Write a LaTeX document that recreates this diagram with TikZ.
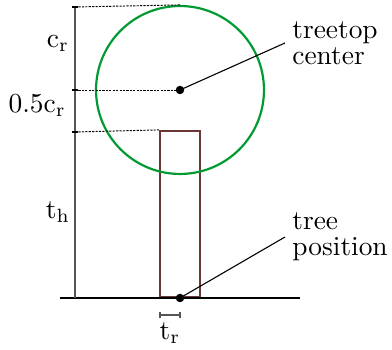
\documentclass[tikz,border=0pt]{standalone}
\usepackage{amsmath}
\definecolor{CrownGreen}{HTML}{009A33}
\definecolor{TrunkBrown}{HTML}{6B3636}
\definecolor{AxisGray}{HTML}{555555}

\begin{document}
\begin{tikzpicture}[x=0.365pt,y=-0.365pt,
  guide/.style={line width=0.35pt,dash pattern=on 0.8pt off 0.45pt},
  axisline/.style={draw=AxisGray,line width=0.5pt},
  dot/.style={circle,fill=black,inner sep=0pt,minimum size=3.1pt}]
  \useasboundingbox (0,0) rectangle (392,350);

  % tree: trunk and crown
  \node[draw=TrunkBrown,line width=0.75pt,minimum width=14.6pt,minimum height=60.6pt,
        inner sep=0pt,anchor=south] (trunk) at (180,298) {};
  \node[draw=CrownGreen,circle,line width=0.8pt,minimum size=61.3pt,inner sep=0pt]
        (crown) at (180,90) {};
  \draw[line width=0.85pt] (60,298) -- (300,298);

  % measure axis
  \coordinate (axtop) at (75,7);
  \coordinate (axmid) at (75,90);
  \coordinate (axlow) at (75,132);
  \coordinate (axbot) at (75,298);
  \draw[axisline] (axtop) -- (axbot);
  \foreach \y in {7,90,132} {
    \draw[line width=0.5pt] (72,\y) -- (78.5,\y);
  }
  \draw[guide] (axtop) -- (crown.north);
  \draw[guide] (axmid) -- (crown.center);
  \draw[guide] (axlow) -- (trunk.north west);

  \node at (58,44) {$\mathrm{c_r}$};
  \node[anchor=east,inner sep=1pt] at (69,106) {$0.5\mathrm{c_r}$};
  \node at (58,212) {$\mathrm{t_h}$};

  % trunk radius
  \coordinate (rleft) at (160,315);
  \coordinate (rright) at (180,315);
  \draw[axisline] (rleft) -- (rright);
  \draw[axisline] (160,312) -- (160,318) (180,312) -- (180,318);
  \node at (170,333) {$\mathrm{t_r}$};

  % points and their labels
  \node[dot] (crowncenter) at (crown.center) {};
  \node[dot] (treepos) at (180,298) {};
  \node[anchor=west,align=left,inner sep=2.5pt] (crownlabel) at (285,43)
        {treetop\\[-2.5pt]center};
  \node[anchor=west,align=left,inner sep=2.5pt] (poslabel) at (285,237)
        {tree\\[-2.5pt]position};
  \draw[line width=0.4pt] (crowncenter.center) -- (crownlabel.west);
  \draw[line width=0.4pt] (treepos.center) -- (poslabel.west);
\end{tikzpicture}
\end{document}
